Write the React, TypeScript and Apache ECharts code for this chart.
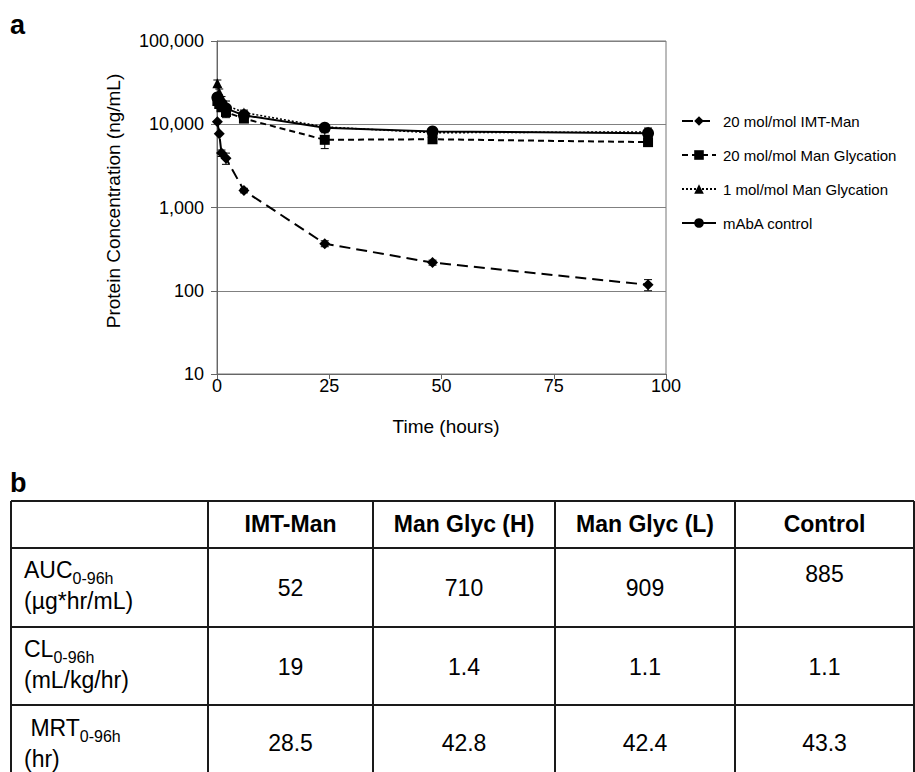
import React, { useEffect, useRef } from 'react';
import * as echarts from 'echarts';

// ---- Panel a data ----
const timesH = [0.083, 0.5, 1, 2, 6, 24, 48, 96];
const seriesNames = [
  '20 mol/mol IMT-Man',
  '20 mol/mol Man Glycation',
  '1 mol/mol Man Glycation',
  'mAbA control',
];
const imtMan = [10700, 7700, 4500, 3900, 1600, 368, 218, 118];
const manGlycH = [19000, 17500, 16000, 14000, 11700, 6500, 6600, 6100];
const manGlycL = [31000, 24000, 19500, 17000, 13800, 9300, 7900, 8100];
const control = [21000, 19000, 17500, 15500, 12800, 9100, 8200, 7800];
const imtManErr = [0, 0, 400, 600, 100, 30, 15, 18];
const manGlycHErr = [2000, 1500, 1500, 2000, 800, 1400, 600, 700];
const manGlycLErr = [3000, 2500, 2000, 2000, 1000, 500, 500, 900];
const controlErr = [2000, 2000, 1500, 1500, 800, 500, 500, 300];
const yTicks = [10, 100, 1000, 10000, 100000];
const xTicks = [0, 25, 50, 75, 100];

// ---- Panel b data ----
const tableHeaders = ['IMT-Man', 'Man Glyc (H)', 'Man Glyc (L)', 'Control'];
const paramNames = ['AUC', 'CL', ' MRT'];
const paramSubs = ['0-96h', '0-96h', '0-96h'];
const paramUnits = ['(µg*hr/mL)', '(mL/kg/hr)', '(hr)'];
const aucValues = ['52', '710', '909', '885'];
const clValues = ['19', '1.4', '1.1', '1.1'];
const mrtValues = ['28.5', '42.8', '42.4', '43.3'];

const FONT = '"Liberation Sans", Arial, Helvetica, sans-serif';

function measure(text: string, size: number, weight = 'normal') {
  const c = document.createElement('canvas').getContext('2d');
  if (!c) return text.length * size * 0.55;
  c.font = `${weight} ${size}px "Liberation Sans", Arial, sans-serif`;
  return c.measureText(text).width;
}

export default function App() {
  const ref = useRef<HTMLDivElement>(null);

  useEffect(() => {
    if (!ref.current) return;
    const chart = echarts.init(ref.current, null, { renderer: 'svg' });

    const values = [imtMan, manGlycH, manGlycL, control];
    const errs = [imtManErr, manGlycHErr, manGlycLErr, controlErr];
    const symbols = ['diamond', 'rect', 'triangle', 'circle'];
    const symbolSizes = [11, 10, 10, 12];
    const lineTypes: any[] = [[11, 6], [6, 4], [2, 2], 'solid'];
    const lineWidths = [2, 2, 1.5, 2];

    const lineSeries = seriesNames.map((name, i) => ({
      name,
      type: 'line',
      data: timesH.map((t, k) => [t, values[i][k]]),
      symbol: symbols[i],
      symbolSize: symbolSizes[i],
      showSymbol: true,
      itemStyle: { color: '#000' },
      lineStyle: { color: '#000', width: lineWidths[i], type: lineTypes[i] },
      z: 3,
    }));

    const errSeries = seriesNames.map((name, i) => ({
      name: 'err-' + i,
      type: 'custom',
      data: timesH.map((t, k) => [t, values[i][k], errs[i][k]]),
      encode: { x: 0, y: 1 },
      z: 2,
      silent: true,
      renderItem: (_p: any, api: any) => {
        const x = api.value(0);
        const v = api.value(1);
        const e = api.value(2);
        if (!e) return null;
        const top = api.coord([x, v + e]);
        const bot = api.coord([x, Math.max(v - e, 1e-6)]);
        const hw = 4;
        const st = { stroke: '#000', lineWidth: 1 };
        return {
          type: 'group',
          children: [
            { type: 'line', shape: { x1: top[0], y1: top[1], x2: bot[0], y2: bot[1] }, style: st },
            { type: 'line', shape: { x1: top[0] - hw, y1: top[1], x2: top[0] + hw, y2: top[1] }, style: st },
            { type: 'line', shape: { x1: bot[0] - hw, y1: bot[1], x2: bot[0] + hw, y2: bot[1] }, style: st },
          ],
        };
      },
    }));

    // ---- table graphics ----
    const tLeft = 11;
    const tRight = 914;
    const colX = [11, 208, 373, 555, 735, 914];
    const rowY = [501, 548, 627, 705];
    const tBottom = 772;
    const lineStyle = { stroke: '#1a1a1a', lineWidth: 2 };
    const g: any[] = [];
    rowY.forEach((y) =>
      g.push({ type: 'line', shape: { x1: tLeft, y1: y, x2: tRight, y2: y }, style: lineStyle })
    );
    colX.forEach((x) =>
      g.push({ type: 'line', shape: { x1: x, y1: rowY[0], x2: x, y2: tBottom }, style: lineStyle })
    );
    const colCenters = colX.slice(1, 5).map((x, i) => (x + colX[i + 2]) / 2);
    tableHeaders.forEach((h, i) =>
      g.push({
        type: 'text',
        x: colCenters[i],
        y: 524,
        style: { text: h, font: `bold 23px ${FONT}`, fill: '#000', align: 'center', verticalAlign: 'middle' },
      })
    );
    const rowMainY = [570, 649, 728];
    const rowSubY = [578, 657, 736];
    const rowUnitY = [601, 680, 759];
    const rowValY = [588, 667, 743];
    const rowVals = [aucValues, clValues, mrtValues];
    paramNames.forEach((p, r) => {
      const x0 = 24;
      const w = measure(p, 23);
      g.push({
        type: 'text', x: x0, y: rowMainY[r],
        style: { text: p, font: `23px ${FONT}`, fill: '#000', align: 'left', verticalAlign: 'middle' },
      });
      g.push({
        type: 'text', x: x0 + w, y: rowSubY[r],
        style: { text: paramSubs[r], font: `16px ${FONT}`, fill: '#000', align: 'left', verticalAlign: 'middle' },
      });
      g.push({
        type: 'text', x: 24, y: rowUnitY[r],
        style: { text: paramUnits[r], font: `23px ${FONT}`, fill: '#000', align: 'left', verticalAlign: 'middle' },
      });
      rowVals[r].forEach((v, c) => {
        const off = r === 0 && c === 3 ? -14 : 0;
        g.push({
          type: 'text', x: colCenters[c], y: rowValY[r] + off,
          style: { text: v, font: `23px ${FONT}`, fill: '#000', align: 'center', verticalAlign: 'middle' },
        });
      });
    });

    // panel labels and axis titles
    g.push({
      type: 'text', x: 10, y: 25,
      style: { text: 'a', font: `bold 27px ${FONT}`, fill: '#000', align: 'left', verticalAlign: 'middle' },
    });
    g.push({
      type: 'text', x: 10, y: 483,
      style: { text: 'b', font: `bold 27px ${FONT}`, fill: '#000', align: 'left', verticalAlign: 'middle' },
    });
    g.push({
      type: 'text', x: 446, y: 426,
      style: { text: 'Time (hours)', font: `19px ${FONT}`, fill: '#000', align: 'center', verticalAlign: 'middle' },
    });
    g.push({
      type: 'text', x: 113, y: 201, rotation: Math.PI / 2,
      style: { text: 'Protein Concentration (ng/mL)', font: `19px ${FONT}`, fill: '#000', align: 'center', verticalAlign: 'middle' },
    });

    const option: any = {
      animation: false,
      backgroundColor: '#fff',
      textStyle: { fontFamily: FONT },
      grid: {
        left: 217,
        right: 915 - 666,
        top: 41,
        bottom: 772 - 374,
        show: true,
        borderColor: '#777',
        borderWidth: 1,
        backgroundColor: 'transparent',
      },
      legend: {
        data: seriesNames,
        orient: 'vertical',
        left: 681,
        top: 113,
        padding: 0,
        itemWidth: 34,
        itemHeight: 12,
        itemGap: 18,
        textStyle: { fontSize: 15, lineHeight: 16, color: '#000', fontFamily: FONT, padding: [0, 0, 0, 2] },
        selectedMode: false,
      },
      xAxis: {
        type: 'value',
        min: xTicks[0],
        max: xTicks[xTicks.length - 1],
        interval: 25,
        axisLine: { show: true, lineStyle: { color: '#666', width: 1 } },
        axisTick: { show: true, length: 5, lineStyle: { color: '#666' } },
        axisLabel: { fontSize: 18, color: '#000', margin: 3, fontFamily: FONT },
        splitLine: { show: false },
      },
      yAxis: {
        type: 'log',
        logBase: 10,
        min: yTicks[0],
        max: yTicks[yTicks.length - 1],
        axisLine: { show: true, lineStyle: { color: '#666', width: 1 } },
        axisTick: { show: true, length: 6, lineStyle: { color: '#666' } },
        axisLabel: {
          fontSize: 18,
          color: '#000',
          margin: 13,
          fontFamily: FONT,
          formatter: (v: number) => Math.round(v).toLocaleString('en-US'),
        },
        splitLine: { show: true, lineStyle: { color: '#808080', width: 1 } },
        minorTick: { show: false },
      },
      graphic: g,
      series: [...errSeries, ...lineSeries],
    };

    chart.setOption(option);
    return () => chart.dispose();
  }, []);

  return (
    <div
      ref={ref}
      style={{ position: 'absolute', left: 0, top: 0, width: 915, height: 772, background: '#fff' }}
    />
  );
}
